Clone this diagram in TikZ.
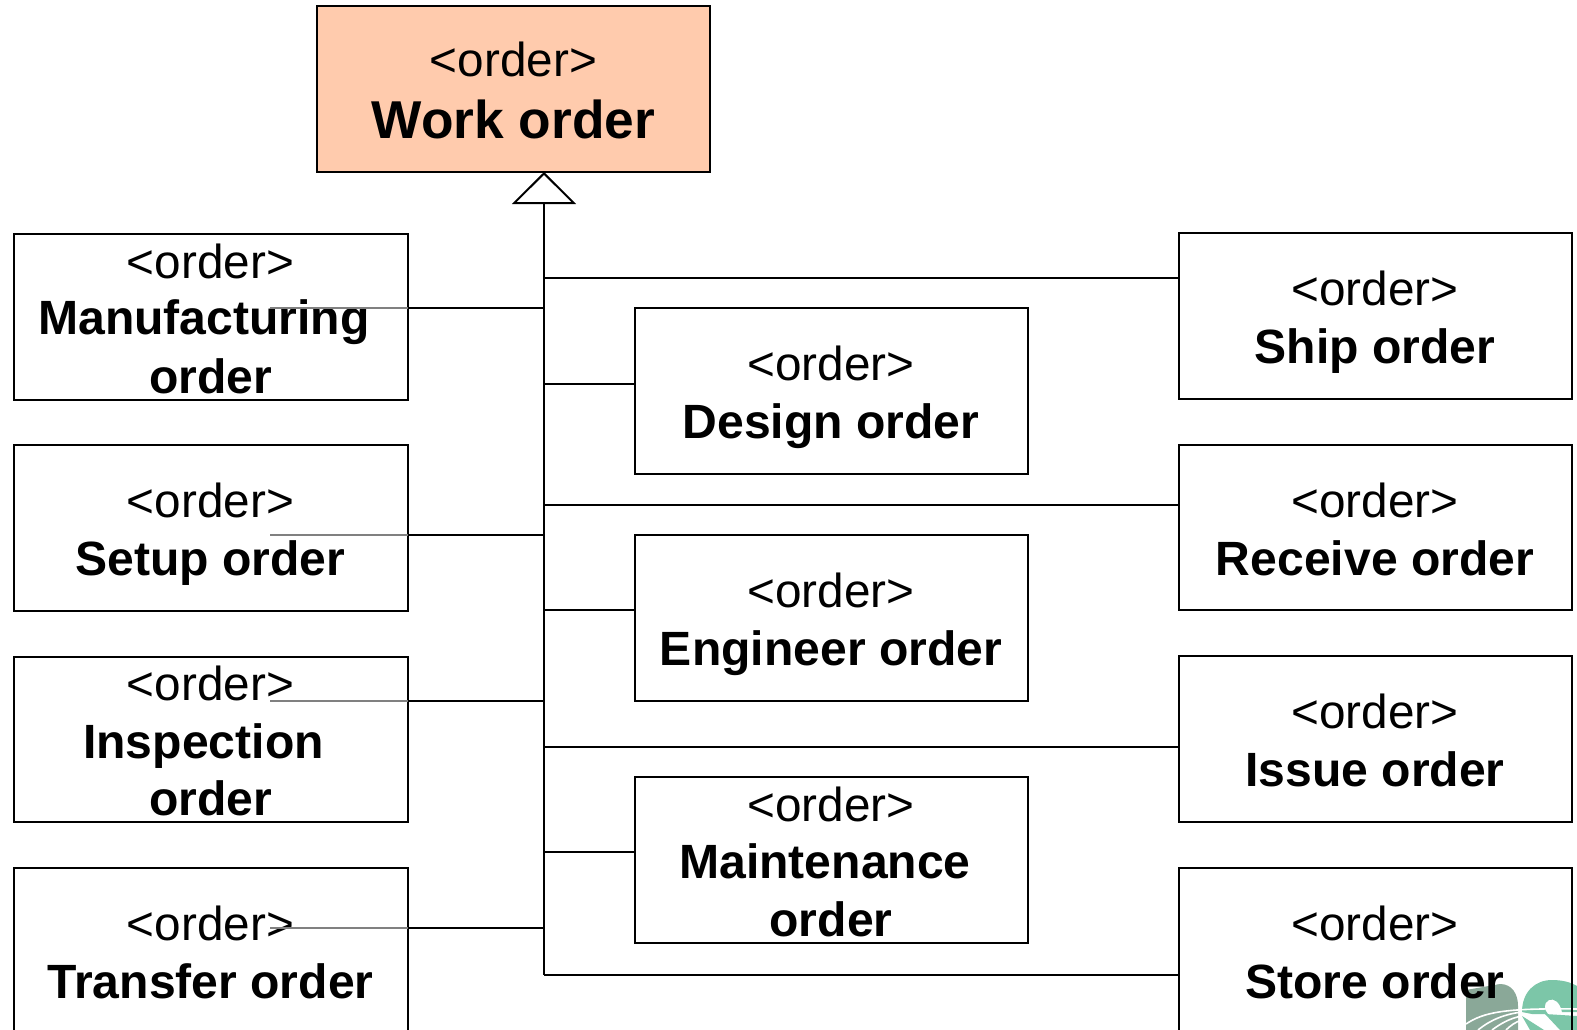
\documentclass[tikz,border=0pt]{standalone}
\usepackage{fontspec}
\setmainfont{Liberation Sans}
\usetikzlibrary{arrows.meta}
\definecolor{woFill}{RGB}{255,203,173}
\definecolor{logoGrey}{RGB}{138,168,152}
\definecolor{logoTeal}{RGB}{124,198,168}
\tikzset{
  orderbox/.style={draw=black,line width=2pt,fill=white,minimum width=393.5pt,minimum height=165.5pt,anchor=north west,inner sep=0pt,outer sep=0pt},
  stereo/.style={anchor=base,inner sep=0pt,font=\fontsize{47.7pt}{50pt}\selectfont},
  boldname/.style={anchor=base,inner sep=0pt,font=\fontsize{48.1pt}{52pt}\selectfont\bfseries},
  wirel/.style={draw=black,line width=2pt},
  ghost/.style={draw=black!50,line width=1.5pt},
}
\begin{document}
\begin{tikzpicture}[x=1pt,y=-1pt]
\useasboundingbox (0,0) rectangle (1577,1030);
\clip (0,0) rectangle (1577,1030);
% boxes
\node[orderbox,fill=woFill] (wo) at (316.5,6.5) {};
\node[orderbox] (mf) at (14,234) {};
\node[orderbox] (su) at (14,445) {};
\node[orderbox] (in) at (14,656.5) {};
\node[orderbox] (tr) at (14,868) {};
\node[orderbox] (de) at (634.5,308) {};
\node[orderbox] (en) at (634.5,535) {};
\node[orderbox] (ma) at (634.5,777) {};
\node[orderbox] (sh) at (1178.5,233) {};
\node[orderbox] (re) at (1178.5,444.5) {};
\node[orderbox] (is) at (1178.5,656) {};
\node[orderbox] (st) at (1178.5,868) {};
% logo
\fill[logoGrey] (1466,1030) -- (1466,990) -- (1500,984) .. controls (1512,984) and (1518,994) .. (1518,1006) -- (1518,1030) -- cycle;
\fill[logoTeal] (1522,1012) .. controls (1522,992) and (1535,980) .. (1552,980) .. controls (1562,980) and (1570,982) .. (1577,986) -- (1577,1012) -- (1562,1012) .. controls (1560,1002) and (1554,998) .. (1549,1000) .. controls (1543,1003) and (1544,1010) .. (1548,1014) -- (1532,1014) -- cycle;
\fill[logoTeal] (1522,1016) -- (1544,1030) -- (1530,1030) -- cycle;
\fill[logoTeal] (1545,1014) -- (1577,1016) -- (1577,1030) -- (1560,1030) -- cycle;
\draw[white,line width=1.6pt] (1466,1024) .. controls (1484,1012) and (1505,1008) .. (1577,1009);
\draw[white,line width=1.6pt] (1478,1030) .. controls (1490,1020) and (1505,1014) .. (1522,1012);
\draw[white,line width=1.6pt] (1492,1030) .. controls (1500,1024) and (1510,1018) .. (1522,1016);
\draw[white,line width=1.6pt] (1506,1030) .. controls (1510,1026) and (1515,1022) .. (1522,1020);
\draw[black,line width=2pt] (st.north east) -- (st.south east);
% texts
\node[stereo] (wo1) at (513.5,76.5) {<order>};
\node[anchor=base,inner sep=0pt,font=\fontsize{53.3pt}{60pt}\selectfont\bfseries] (wo2) at (513.5,138.5) {Work order};
\node[stereo] (mf1) at (210.5,278) {<order>};
\node[boldname] (mf2) at (204,334.5) {Manufacturing};
\node[boldname] (mf3) at (210.5,393) {order};
\node[stereo] (su1) at (210.5,517.5) {<order>};
\node[boldname] (su2) at (210.5,575) {Setup order};
\node[stereo] (in1) at (210.5,700.5) {<order>};
\node[boldname] (in2) at (203.5,758) {Inspection};
\node[boldname] (in3) at (210.5,815) {order};
\node[stereo] (tr1) at (210.5,940.5) {<order>};
\node[boldname] (tr2) at (210.5,998) {Transfer order};
\node[stereo] (de1) at (831,380.5) {<order>};
\node[boldname] (de2) at (831,438) {Design order};
\node[stereo] (en1) at (831,607.5) {<order>};
\node[boldname] (en2) at (831,665) {Engineer order};
\node[stereo] (ma1) at (831,821.5) {<order>};
\node[boldname] (ma2) at (825,878) {Maintenance};
\node[boldname] (ma3) at (831,936) {order};
\node[stereo] (sh1) at (1375,305.5) {<order>};
\node[boldname] (sh2) at (1375,363) {Ship order};
\node[stereo] (re1) at (1375,517.5) {<order>};
\node[boldname] (re2) at (1375,575) {Receive order};
\node[stereo] (is1) at (1375,728.5) {<order>};
\node[boldname] (is2) at (1375,786) {Issue order};
\node[stereo] (st1) at (1375,940.5) {<order>};
\node[boldname] (st2) at (1375,998) {Store order};
% spine junctions
\coordinate (jsh) at (544,277.5);
\coordinate (jmf) at (544,308);
\coordinate (jde) at (544,384);
\coordinate (jre) at (544,505);
\coordinate (jsu) at (544,535);
\coordinate (jen) at (544,610);
\coordinate (jin) at (544,701);
\coordinate (jis) at (544,746.5);
\coordinate (jma) at (544,852);
\coordinate (jtr) at (544,928);
\coordinate (jst) at (544,974.5);
% grey ends
\coordinate (gmf) at (270,308);
\coordinate (gsu) at (270,535);
\coordinate (gin) at (270,701);
\coordinate (gtr) at (270,928);
% spine
\draw[wirel,-{Triangle[open,fill=white,length=32pt,width=64pt,line width=2pt]}] (jst) -- (wo.south -| jst);
% branches
\foreach \j/\b in {jsh/sh,jre/re,jis/is,jst/st}{
  \draw[wirel] (\j) -- (\j -| \b.west);
}
\foreach \j/\b in {jde/de,jen/en,jma/ma}{
  \draw[wirel] (\j) -- (\j -| \b.west);
}
\foreach \j/\b/\g in {jmf/mf/gmf,jsu/su/gsu,jin/in/gin,jtr/tr/gtr}{
  \draw[wirel] (\j) -- (\j -| \b.east);
  \draw[ghost] (\j -| \b.east) -- (\g);
}
\end{tikzpicture}
\end{document}
